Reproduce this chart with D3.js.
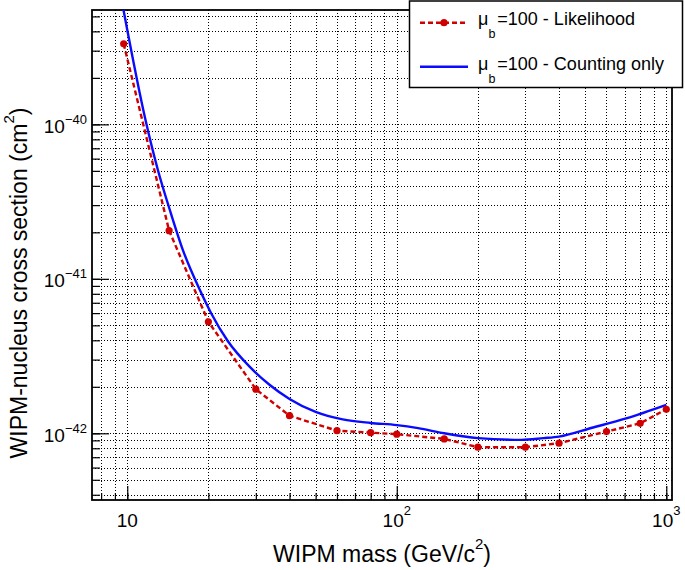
<!DOCTYPE html>
<html><head><meta charset="utf-8">
<script src="https://cdn.jsdelivr.net/npm/d3@7"></script>
<style>
body{margin:0;background:#fff}
svg{display:block}
text{font-family:"Liberation Sans",Arial,Helvetica,sans-serif;fill:#000}
</style>
</head><body>
<svg id="c" width="685" height="570"></svg>
<script>
// ---- data ----
const massLik  = [9.7, 14.3, 20, 30, 40, 60, 80, 100, 150, 200, 300, 400, 600, 800, 1000];
const sigmaLik = [3.32e-40, 2.05e-41, 5.27e-42, 1.93e-42, 1.30e-42, 1.04e-42, 1.01e-42, 9.87e-43,
                  9.2e-43, 8.13e-43, 8.13e-43, 8.63e-43, 1.026e-42, 1.16e-42, 1.43e-42];
const massCount  = [9.6, 11.7, 13, 14.4, 16.1, 18.6, 20.5, 23.6, 28.5, 33.8, 40, 50, 63, 80,
                    100, 120, 150, 200, 290, 350, 400, 535, 710, 1000];
const sigmaCount = [5.97e-40, 1.06e-40, 5.05e-41, 2.78e-41, 1.53e-41, 8.46e-42, 5.97e-42, 3.96e-42,
                    2.69e-42, 2.055e-42, 1.668e-42, 1.374e-42, 1.23e-42, 1.167e-42, 1.13e-42, 1.08e-42,
                    1.0e-42, 9.3e-43, 9.06e-43, 9.3e-43, 9.52e-43, 1.09e-42, 1.25e-42, 1.53e-42];
const xTicks = [10, 100, 1000];
const xTickExp = ["", "2", "3"];
const yTicks = [1e-42, 1e-41, 1e-40];
const yTickExp = ["\u221242", "\u221241", "\u221240"];
const legendLabels = ["=100 - Likelihood", "=100 - Counting only"];
const xTitle = "WIPM mass (GeV/c";
const yTitle = "WIPM-nucleus cross section (cm";

// ---- layout ----
const L = 92, R = 672, T = 10, B = 500;
const red = "#d00000", blue = "#0a0aff";
const svg = d3.select("#c");
const x = d3.scaleLog().domain([7.4, 1050]).range([L, R]);
const y = d3.scaleLog().domain([3.7e-43, 5.5e-40]).range([B, T]);

// minor tick values
const xMinor = [];
[1, 10, 100, 1000].forEach(d => { for (let k = 1; k <= 9; k++) { const v = k * d; if (v >= 7.4 && v <= 1050) xMinor.push(v); } });
const yMinor = [];
[1e-43, 1e-42, 1e-41, 1e-40].forEach(d => { for (let k = 1; k <= 9; k++) { const v = k * d; if (v >= 3.7e-43 && v <= 5.5e-40) yMinor.push(v); } });

// grid
const grid = svg.append("g").attr("stroke", "#000").attr("stroke-width", 1).attr("stroke-dasharray", "1,2");
grid.selectAll("line.gx").data(xMinor).join("line")
  .attr("x1", d => Math.round(x(d)) + 0.5).attr("x2", d => Math.round(x(d)) + 0.5)
  .attr("y1", T).attr("y2", B);
grid.selectAll("line.gy").data(yMinor).join("line")
  .attr("y1", d => Math.round(y(d)) + 0.5).attr("y2", d => Math.round(y(d)) + 0.5)
  .attr("x1", L).attr("x2", R);

// axes ticks (inward)
function styleAxis(g) { g.select(".domain").remove(); g.selectAll("line").attr("stroke", "#000").attr("stroke-width", 1.2); g.selectAll("text").remove(); }
svg.append("g").attr("transform", `translate(0,${B})`)
  .call(d3.axisBottom(x).tickValues(xMinor).tickSize(-7).tickFormat("")).call(styleAxis);
svg.append("g").attr("transform", `translate(0,${B})`)
  .call(d3.axisBottom(x).tickValues(xTicks).tickSize(-14).tickFormat("")).call(styleAxis);
svg.append("g").attr("transform", `translate(${L},0)`)
  .call(d3.axisLeft(y).tickValues(yMinor).tickSize(-8).tickFormat("")).call(styleAxis);
svg.append("g").attr("transform", `translate(${L},0)`)
  .call(d3.axisLeft(y).tickValues(yTicks).tickSize(-17).tickFormat("")).call(styleAxis);

// frame
svg.append("rect").attr("x", L).attr("y", T).attr("width", R - L).attr("height", B - T)
  .attr("fill", "none").attr("stroke", "#000").attr("stroke-width", 1.8);

// clip
svg.append("clipPath").attr("id", "clip").append("rect")
  .attr("x", L).attr("y", T).attr("width", R - L).attr("height", B - T);

// counting-only curve
const countData = massCount.map((m, i) => [m, sigmaCount[i]]);
svg.append("path").attr("clip-path", "url(#clip)")
  .attr("d", d3.line().x(d => x(d[0])).y(d => y(d[1])).curve(d3.curveMonotoneX)(countData))
  .attr("fill", "none").attr("stroke", blue).attr("stroke-width", 2.4);

// likelihood
const likData = massLik.map((m, i) => [m, sigmaLik[i]]);
svg.append("path").attr("clip-path", "url(#clip)")
  .attr("d", d3.line().x(d => x(d[0])).y(d => y(d[1]))(likData))
  .attr("fill", "none").attr("stroke", red).attr("stroke-width", 2.4).attr("stroke-dasharray", "5,3");
svg.append("g").selectAll("circle").data(likData).join("circle")
  .attr("cx", d => x(d[0])).attr("cy", d => y(d[1])).attr("r", 3.6).attr("fill", red);

// x tick labels
xTicks.forEach((v, i) => {
  const t = svg.append("text").attr("x", x(v)).attr("y", 527).attr("text-anchor", "middle").attr("font-size", 19);
  t.append("tspan").text("10");
  if (xTickExp[i]) t.append("tspan").attr("font-size", 13).attr("dy", -12).text(xTickExp[i]);
});
// y tick labels
yTicks.forEach((v, i) => {
  const t = svg.append("text").attr("x", 87).attr("y", y(v) + 8.3).attr("text-anchor", "end").attr("font-size", 19);
  t.append("tspan").text("10");
  t.append("tspan").attr("font-size", 13).attr("dy", -8.7).text(yTickExp[i]);
});

// axis titles
const xt = svg.append("text").attr("x", (L + R) / 2).attr("y", 562).attr("text-anchor", "middle").attr("font-size", 23);
xt.append("tspan").text(xTitle);
xt.append("tspan").attr("font-size", 15).attr("dy", -13.5).text("2");
xt.append("tspan").attr("dy", 13.5).text(")");
const yt = svg.append("text").attr("transform", "translate(27,283) rotate(-90)").attr("text-anchor", "middle").attr("font-size", 23);
yt.append("tspan").text(yTitle);
yt.append("tspan").attr("font-size", 15).attr("dy", -13.5).text("2");
yt.append("tspan").attr("dy", 13.5).text(")");

// legend
const lg = svg.append("g");
lg.append("rect").attr("x", 409.5).attr("y", 1).attr("width", 273).attr("height", 86.5)
  .attr("fill", "#fff").attr("stroke", "#000").attr("stroke-width", 1.5);
const rows = [{ y: 22.7, base: 25, c: red, dash: "5,3", marker: true },
              { y: 66.7, base: 70, c: blue, dash: null, marker: false }];
rows.forEach((r, i) => {
  lg.append("line").attr("x1", 420).attr("x2", 468).attr("y1", r.y).attr("y2", r.y)
    .attr("stroke", r.c).attr("stroke-width", 2.4).attr("stroke-dasharray", r.dash);
  if (r.marker) lg.append("circle").attr("cx", 444).attr("cy", r.y).attr("r", 3.6).attr("fill", r.c);
  const t = lg.append("text").attr("x", 478).attr("y", r.base).attr("font-size", 18);
  t.append("tspan").text("\u03bc");
  t.append("tspan").attr("font-size", 12.5).attr("dy", 13).text("b");
  t.append("tspan").attr("dy", -13).attr("dx", 2).text(legendLabels[i]);
});
</script>
</body></html>
